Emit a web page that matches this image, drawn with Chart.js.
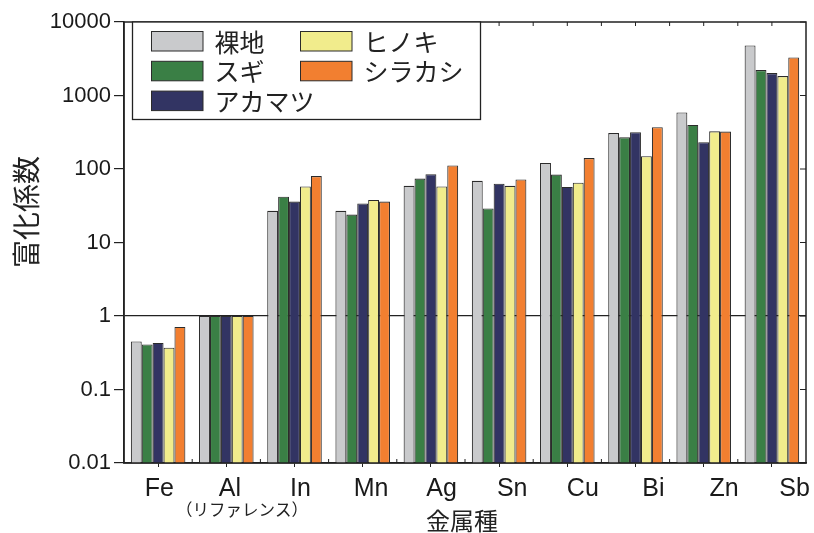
<!DOCTYPE html>
<html lang="ja">
<head>
<meta charset="utf-8">
<title>富化係数</title>
<script src="https://cdn.jsdelivr.net/npm/chart.js@4/dist/chart.umd.min.js"></script>
<style>
  html, body { margin: 0; padding: 0; background: #fff; }
  #wrap { width: 814px; height: 533px; }
</style>
</head>
<body>
<div id="wrap"><canvas id="enrichChart"></canvas></div>
<script>
// metals and enrichment factor per ground cover
const metals = ["Fe", "Al", "In", "Mn", "Ag", "Sn", "Cu", "Bi", "Zn", "Sb"];
const bareSoil   = [0.45, 1, 27, 27, 59, 69, 121, 308, 587, 4800];
const sugi       = [0.41, 1, 42, 24, 74, 29, 84, 270, 398, 2220];
const akamatsu   = [0.43, 1, 36, 34, 85, 63, 57, 316, 231, 2020];
const hinoki     = [0.37, 1, 58, 38, 58, 59, 65, 149, 326, 1840];
const shirakashi = [0.71, 1, 80, 36, 112, 72, 141, 370, 323, 3300];
const seriesNames = ["裸地", "スギ", "アカマツ", "ヒノキ", "シラカシ"];
const yTickValues = [0.01, 0.1, 1, 10, 100, 1000, 10000];
const yTickLabels = ["0.01", "0.1", "1", "10", "100", "1000", "10000"];

const colors = ["#c9cacc", "#3a7f45", "#323463", "#f1ec8c", "#f27f30"];
const edge = "#2b2b2b";
const jpFont = '"Noto Sans CJK JP", "Noto Sans", sans-serif';
const latinFont = '"Liberation Sans", Arial, sans-serif';
const LABEL_SPREAD = 1.035;  // metal names sit on a slightly wider pitch than the bars

const seriesValues = [bareSoil, sugi, akamatsu, hinoki, shirakashi];
const datasets = seriesValues.map((vals, i) => ({
    label: seriesNames[i],
    data: vals,
    backgroundColor: colors[i],
    borderColor: edge,
    borderWidth: 1.1,
    categoryPercentage: 0.8,
    barPercentage: 1.0
}));

// frame, inner ticks, boxed legend and the extra texts
const decorations = {
    id: "decorations",
    afterLayout(chart) {
        const xl = chart.scales.xl;
        xl.right = xl.left + (xl.right - xl.left) * LABEL_SPREAD;
        xl.width = xl.right - xl.left;
        xl.configure();
    },
    afterDraw(chart) {
        const ctx = chart.ctx;
        const a = chart.chartArea;
        const x = chart.scales.x;
        const y = chart.scales.y;
        ctx.save();

        // plot frame
        ctx.strokeStyle = "#222";
        ctx.lineWidth = 1.5;
        ctx.strokeRect(a.left, a.top, a.right - a.left, a.bottom - a.top);

        // inward ticks: right side at decades, top at centres and boundaries, bottom at boundaries
        ctx.lineWidth = 1;
        ctx.beginPath();
        yTickValues.forEach(v => {
            const py = y.getPixelForValue(v);
            ctx.moveTo(a.right, py);
            ctx.lineTo(a.right - 6, py);
        });
        metals.forEach((m, i) => {
            const c = x.getPixelForValue(i);
            ctx.moveTo(c, a.top);
            ctx.lineTo(c, a.top + 4);
            if (i < metals.length - 1) {
                const b = (c + x.getPixelForValue(i + 1)) / 2;
                ctx.moveTo(b, a.top);
                ctx.lineTo(b, a.top + 4);
                ctx.moveTo(b, a.bottom);
                ctx.lineTo(b, a.bottom - 4);
            }
        });
        ctx.stroke();

        // legend box, column-major with three rows
        const lx = a.left + 8.5, ly = a.top, lw = 348, lh = 97.5;
        ctx.fillStyle = "#fff";
        ctx.fillRect(lx, ly, lw, lh);
        ctx.strokeStyle = "#222";
        ctx.lineWidth = 1.3;
        ctx.strokeRect(lx, ly, lw, lh);
        ctx.font = "25px " + jpFont;
        ctx.textBaseline = "middle";
        ctx.textAlign = "left";
        chart.data.datasets.forEach((ds, i) => {
            const col = Math.floor(i / 3), row = i % 3;
            const sx = lx + 19 + col * 149;
            const sy = ly + 9.5 + row * 29.8;
            ctx.fillStyle = ds.backgroundColor;
            ctx.fillRect(sx, sy, 51.5, 19.5);
            ctx.strokeStyle = edge;
            ctx.lineWidth = 1;
            ctx.strokeRect(sx, sy, 51.5, 19.5);
            ctx.fillStyle = "#222";
            ctx.fillText(ds.label, sx + 63, sy + 10.5);
        });

        // note under Al
        const xl = chart.scales.xl;
        ctx.font = "16.5px " + jpFont;
        ctx.textAlign = "center";
        ctx.fillStyle = "#222";
        ctx.fillText("（リファレンス）", xl.getPixelForValue(1) + 12, 510);

        // axis titles
        ctx.font = "24px " + jpFont;
        ctx.fillText("金属種", (a.left + a.right) / 2 - 3, 521);
        ctx.translate(26, 212);
        ctx.rotate(-Math.PI / 2);
        ctx.font = "28px " + jpFont;
        ctx.fillText("富化係数", 0, 0);
        ctx.restore();
    }
};

new Chart(document.getElementById("enrichChart"), {
    type: "bar",
    data: { labels: metals, datasets },
    options: {
        responsive: true,
        maintainAspectRatio: false,
        animation: false,
        layout: { padding: { left: 0, top: 22, right: 8, bottom: 0 } },
        plugins: {
            legend: { display: false },
            tooltip: { enabled: false }
        },
        scales: {
            x: {
                type: "category",
                offset: true,
                grid: { drawOnChartArea: false, offset: false, tickLength: 4, color: "#222" },
                border: { color: "#222", width: 1.5 },
                ticks: { display: false },
                afterFit: s => { s.height = 5; }
            },
            xl: {
                type: "category",
                labels: metals,
                position: "bottom",
                offset: true,
                grid: { display: false, drawTicks: false },
                border: { display: false },
                ticks: {
                    color: "#1a1a1a",
                    font: { family: latinFont, size: 25 },
                    padding: 6,
                    maxRotation: 0,
                    autoSkip: false
                },
                afterFit: s => { s.height = 65; }
            },
            y: {
                type: "logarithmic",
                min: 0.01,
                max: 10000,
                afterBuildTicks: s => { s.ticks = yTickValues.map(v => ({ value: v })); },
                afterFit: s => { s.width = 124; },
                grid: {
                    color: c => (c.tick && c.tick.value === 1 ? "#222" : "rgba(0,0,0,0)"),
                    lineWidth: 1.2,
                    tickColor: "#222",
                    tickLength: 10
                },
                border: { color: "#222", width: 1.5 },
                ticks: {
                    color: "#1a1a1a",
                    font: { family: latinFont, size: 22 },
                    padding: 3,
                    autoSkip: false,
                    callback: (v, i) => yTickLabels[i]
                }
            }
        }
    },
    plugins: [decorations]
});
</script>
</body>
</html>
